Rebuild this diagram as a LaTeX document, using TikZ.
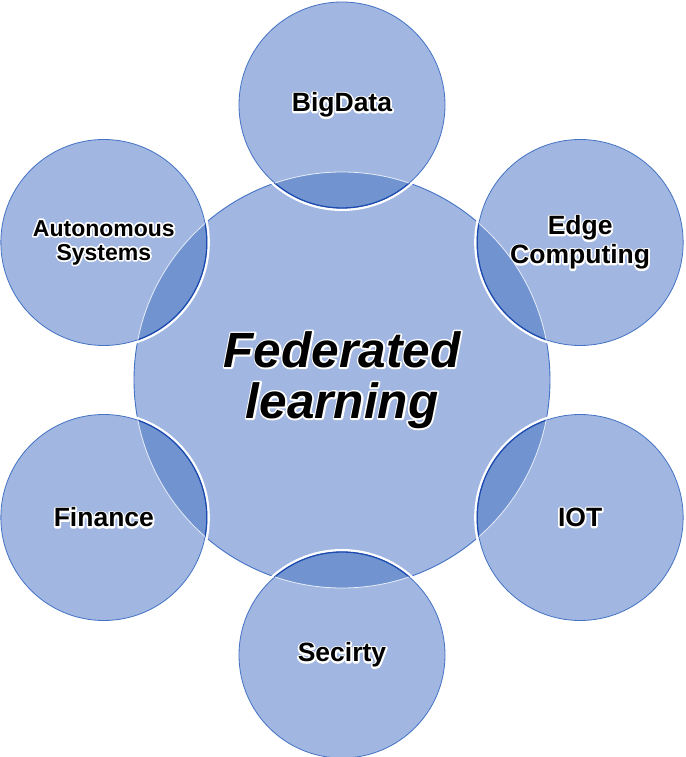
\documentclass[tikz,border=0pt]{standalone}
\usepackage{fontspec}
\setmainfont{Liberation Sans}
\usetikzlibrary{positioning}

\definecolor{hubfill}{RGB}{161,183,225}
\definecolor{lensfill}{RGB}{113,148,209}
\definecolor{rimblue}{RGB}{68,114,196}
\definecolor{lensrim}{RGB}{30,75,175}
% white halo: the word stroked wide in white, then set on top
\newcommand{\glow}[1]{\leavevmode\rlap{\special{pdf:literal direct 1 Tr 3.4 w 1 j 1 1 1 RG}#1\special{pdf:literal direct 0 Tr}}#1}

\begin{document}
\begin{tikzpicture}[
  hub/.style={
    circle, draw=rimblue, line width=0.9pt, fill=hubfill,
    minimum size=416pt, inner sep=0pt, align=center,
    font=\bfseries\itshape\fontsize{49.5}{51}\selectfont
  },
  topic/.style={
    circle, draw=rimblue, line width=0.8pt, fill=hubfill,
    minimum size=206pt, inner sep=0pt, align=center
  },
  gap/.style={fill=white},
  lens/.style={fill=lensfill},
  lensedge/.style={draw=lensrim, line width=1.3pt},
  hubedge/.style={draw=white!75!hubfill, line width=0.8pt}
]
\useasboundingbox (-342pt,-377pt) rectangle (343pt,380pt);

% centre circle
\node[hub] (fl) at (0,0) {\glow{Federated}\\\glow{learning}};

% application areas round the centre
\foreach \a/\nm/\sz/\ls/\txt in {
    90/big/26.5/29/{\glow{BigData}},
    30/edge/26.5/29/{\glow{Edge}\\\glow{Computing}},
    -30/iot/26.5/29/{\glow{IOT}},
    -90/sec/26.5/29/{\glow{Secirty}},
    210/fin/26.5/29/{\glow{Finance}},
    150/auto/23/24/{\glow{Autonomous}\\\glow{Systems}}} {
  \fill[gap] (\a:275pt) circle (106pt);
  \node[topic, font=\bfseries\fontsize{\sz}{\ls}\selectfont] (\nm) at (\a:275pt) {\txt};
  \begin{scope}
    \clip (fl.center) circle (208pt);
    \fill[lens] (\nm.center) circle (103pt);
    \draw[lensedge] (\nm.center) circle (103pt);
  \end{scope}
  \begin{scope}
    \clip (\nm.center) circle (103pt);
    \draw[hubedge] (fl.center) circle (208pt);
  \end{scope}
}
\end{tikzpicture}
\end{document}
